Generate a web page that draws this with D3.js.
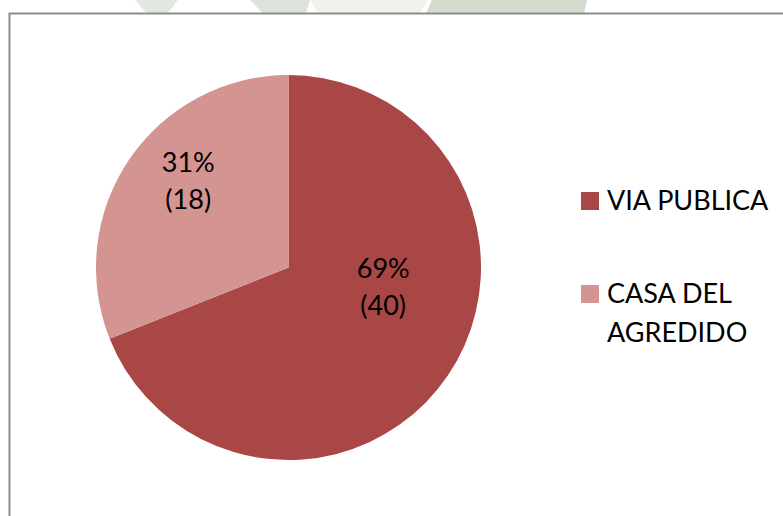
<!DOCTYPE html>
<html>
<head>
<meta charset="utf-8">
<script src="https://cdn.jsdelivr.net/npm/d3@7"></script>
<style>
  html, body { margin: 0; padding: 0; background: #fff; }
  svg { display: block; }
</style>
</head>
<body>
<svg id="chart" width="783" height="516"></svg>
<script>
// ---- data ----
const categories = ["VIA PUBLICA", "CASA DEL AGREDIDO"];
const values = [40, 18];
const legendLines = [["VIA PUBLICA"], ["CASA DEL", "AGREDIDO"]];
const colors = ["#A84745", "#D39492"];

// ---- layout ----
const W = 783, H = 516;
const cx = 288.5, cy = 267.5, R = 192.5;
const fontFamily = "Lato, 'Open Sans', sans-serif";
const fontSize = 27;
// label placement per slice: angle (deg clockwise from top) and radius fraction
const labelPolar = [[103, 0.505], [310, 0.68]];

const svg = d3.select("#chart");

// faint watermark fragments above the chart frame
const wm = svg.append("g");
wm.append("path").attr("d", "M135,0 L178,0 L168,13 L146,13 Z").attr("fill", "#e4e8e2");
wm.append("path").attr("d", "M250,0 L310,0 L306,13 L262,13 L256,6 Z").attr("fill", "#dde3da");
wm.append("path").attr("d", "M310,0 L428,0 L420,13 L318,13 Z").attr("fill", "#eef1ec");
wm.append("path").attr("d", "M432,0 L587,0 L584,13 L426,13 Z").attr("fill", "#d3dbcf");

// chart frame
svg.append("rect")
  .attr("x", 9.5).attr("y", 13.5)
  .attr("width", W + 20).attr("height", H + 20)
  .attr("fill", "#ffffff")
  .attr("stroke", "#8c8c8c")
  .attr("stroke-width", 2);

const total = d3.sum(values);
const pie = d3.pie().sort(null).value(d => d)(values);
const arc = d3.arc().innerRadius(0).outerRadius(R);

const g = svg.append("g").attr("transform", `translate(${cx},${cy})`);
g.selectAll("path.slice")
  .data(pie)
  .join("path")
  .attr("class", "slice")
  .attr("d", arc)
  .attr("fill", (d, i) => colors[i]);

// data labels
pie.forEach((d, i) => {
  const a = labelPolar[i][0] * Math.PI / 180;
  const r = labelPolar[i][1] * R;
  const x = Math.sin(a) * r, y = -Math.cos(a) * r;
  const pct = Math.round(values[i] / total * 100) + "%";
  const t = g.append("text")
    .attr("text-anchor", "middle")
    .attr("font-family", fontFamily)
    .attr("font-size", fontSize)
    .attr("fill", "#000");
  t.append("tspan").attr("x", x).attr("y", y - 11.5).text(pct);
  t.append("tspan").attr("x", x).attr("y", y + 25.5).text(`(${values[i]})`);
});

// legend
const legend = svg.append("g").attr("transform", "translate(581,192)");
const legendRowY = [0, 93];
categories.forEach((c, i) => {
  const row = legend.append("g").attr("transform", `translate(0,${legendRowY[i]})`);
  row.append("rect").attr("width", 18).attr("height", 18).attr("fill", colors[i]);
  const t = row.append("text")
    .attr("font-family", fontFamily)
    .attr("font-size", fontSize)
    .attr("fill", "#000");
  legendLines[i].forEach((line, j) => {
    t.append("tspan").attr("x", 26).attr("y", 18 + j * 39).text(line);
  });
});
</script>
</body>
</html>
